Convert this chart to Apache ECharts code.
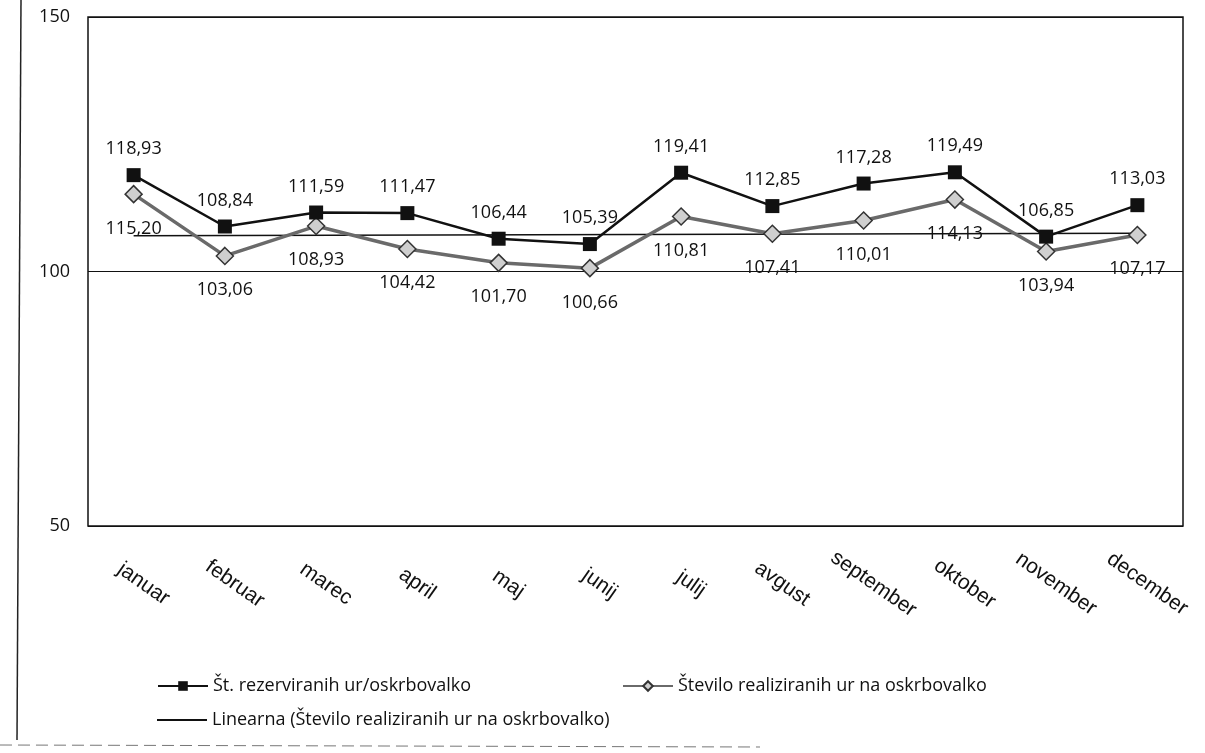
<!DOCTYPE html>
<html>
<head>
<meta charset="utf-8">
<script src="https://cdn.jsdelivr.net/npm/echarts@6/dist/echarts.min.js"></script>
<style>
  html, body { margin: 0; padding: 0; background: #fff; }
  #chart { width: 1205px; height: 753px; }
</style>
</head>
<body>
<div id="chart"></div>
<script>
// months and values
const months = ["januar", "februar", "marec", "april", "maj", "junij", "julij", "avgust", "september", "oktober", "november", "december"];
const reserved = [118.93, 108.84, 111.59, 111.47, 106.44, 105.39, 119.41, 112.85, 117.28, 119.49, 106.85, 113.03];
const realized = [115.20, 103.06, 108.93, 104.42, 101.70, 100.66, 110.81, 107.41, 110.01, 114.13, 103.94, 107.17];
// trend line end points (estimated), middle left empty and joined
const trend = [107.0, null, null, null, null, null, null, null, null, null, null, 107.5];
const yTicks = [50, 100, 150];

const nameRes = "Št. rezerviranih ur/oskrbovalko";
const nameReal = "Število realiziranih ur na oskrbovalko";
const nameTrend = "Linearna (Število realiziranih ur na oskrbovalko)";

const chart = echarts.init(document.getElementById("chart"));

const labelFont = { fontFamily: "Open Sans", fontSize: 18, color: "#111" };
const legendText = { fontFamily: "Open Sans", fontSize: 18, color: "#111" };
const fmt = p => p.value.toFixed(2).replace(".", ",");

const option = {
    animation: false,
    backgroundColor: "#fff",
    grid: { left: 88, right: 22, top: 17, bottom: 227, show: true, borderColor: "#111", borderWidth: 1.5 },
    legend: [
        { data: [nameRes], left: 152, top: 672, itemWidth: 50, itemHeight: 12, itemGap: 4, textStyle: legendText },
        { data: [nameReal], left: 617, top: 672, itemWidth: 50, itemHeight: 12, itemGap: 4, textStyle: legendText },
        { data: [{ name: nameTrend, icon: "rect" }], left: 152, top: 706, itemWidth: 50, itemHeight: 2, itemGap: 6,
          textStyle: legendText }
    ],
    xAxis: {
        type: "category",
        data: months,
        boundaryGap: true,
        axisLine: { show: false },
        axisTick: { show: false },
        axisLabel: {
            rotate: -35,
            align: "center",
            verticalAlign: "middle",
            margin: 51,
            padding: [0, 0, 0, 24],
            fontFamily: "Liberation Sans",
            fontSize: 21,
            color: "#111"
        }
    },
    yAxis: {
        type: "value",
        min: yTicks[0],
        max: yTicks[yTicks.length - 1],
        interval: 50,
        axisLine: { show: false },
        axisTick: { show: false },
        axisLabel: { margin: 18, fontFamily: "Open Sans", fontSize: 18, color: "#111" },
        splitLine: { show: true, lineStyle: { color: "#111", width: 1.2 } }
    },
    series: [
        {
            name: nameRes,
            type: "line",
            data: reserved,
            symbol: "rect",
            symbolSize: 14,
            itemStyle: { color: "#111" },
            lineStyle: { color: "#111", width: 2.5 },
            z: 4,
            label: { show: true, position: "top", distance: 10, ...labelFont, formatter: fmt }
        },
        {
            name: nameReal,
            type: "line",
            data: realized,
            symbol: "diamond",
            symbolSize: 17,
            itemStyle: { color: "#cfcfcf", borderColor: "#333", borderWidth: 1.5 },
            lineStyle: { color: "#6a6a6a", width: 3.5 },
            z: 3,
            label: { show: true, position: "bottom", distance: 16, ...labelFont, formatter: fmt }
        },
        {
            name: nameTrend,
            type: "line",
            data: trend,
            connectNulls: true,
            symbol: "none",
            itemStyle: { color: "#111" },
            lineStyle: { color: "#111", width: 1.5 },
            z: 2
        }
    ],
    graphic: [
        { type: "line", shape: { x1: 21, y1: 0, x2: 17, y2: 740 }, style: { stroke: "#222", lineWidth: 1.5 } },
        { type: "line", shape: { x1: 0, y1: 745, x2: 760, y2: 747 }, style: { stroke: "#777", lineWidth: 1, lineDash: [12, 6] } }
    ]
};

chart.setOption(option);
</script>
</body>
</html>
